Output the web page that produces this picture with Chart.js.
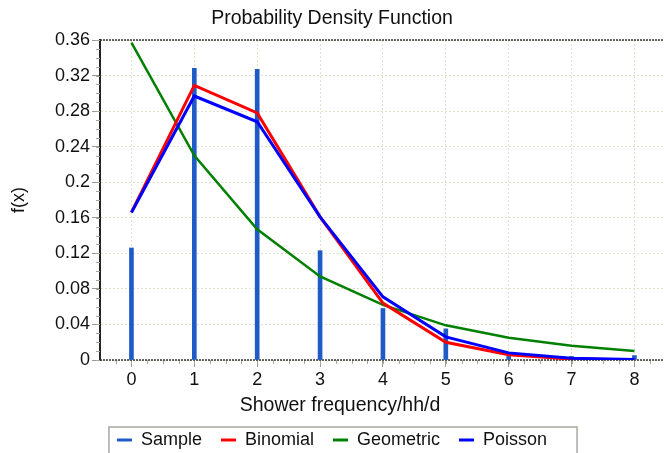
<!DOCTYPE html>
<html>
<head>
<meta charset="utf-8">
<script src="https://cdn.jsdelivr.net/npm/chart.js@4.4.1/dist/chart.umd.min.js"></script>
<style>
  html, body { margin: 0; padding: 0; background: #fff; }
</style>
</head>
<body>
<canvas id="pdf" width="664" height="453"></canvas>
<script>
// values
const xValues   = [0, 1, 2, 3, 4, 5, 6, 7, 8];
const sample    = [0.126, 0.328, 0.327, 0.123, 0.058, 0.035, 0.004, 0.004, 0.005];
const binomial  = [0.166, 0.309, 0.278, 0.161, 0.064, 0.020, 0.006, 0.001, 0.0002];
const geometric = [0.357, 0.230, 0.147, 0.094, 0.062, 0.039, 0.025, 0.016, 0.010];
const poisson   = [0.166, 0.297, 0.268, 0.161, 0.071, 0.026, 0.008, 0.002, 0.0005];

const xTicks = [0, 1, 2, 3, 4, 5, 6, 7, 8];
const yTicks = [0, 0.04, 0.08, 0.12, 0.16, 0.2, 0.24, 0.28, 0.32, 0.36];

const titleText = 'Probability Density Function';
const xTitle = 'Shower frequency/hh/d';
const yTitle = 'f(x)';

Chart.defaults.font.family = "'Liberation Sans', Arial, sans-serif";
Chart.defaults.color = '#111';

function pts(vals) {
    return xValues.map((x, i) => ({x: x, y: vals[i]}));
}

// axis frame, minor ticks, x title and legend box
const frame = {
    id: 'frame',
    beforeDatasetsDraw(chart) {
        const {ctx, chartArea: a, scales: {x, y}} = chart;
        ctx.save();
        ctx.strokeStyle = '#a8a898';
        ctx.lineWidth = 1;
        ctx.beginPath();
        for (let v = 0; v <= 0.3601; v += 0.01) {
            const py = Math.round(y.getPixelForValue(v)) + 0.5;
            ctx.moveTo(a.left - 4, py);
            ctx.lineTo(a.left, py);
        }
        for (let v = -0.25; v <= x.max; v += 0.25) {
            const px = Math.round(x.getPixelForValue(v)) + 0.5;
            ctx.moveTo(px, a.bottom);
            ctx.lineTo(px, a.bottom + 4);
        }
        ctx.stroke();

        ctx.strokeStyle = '#333';
        ctx.lineWidth = 1.5;
        ctx.setLineDash([2, 1]);
        ctx.beginPath();
        ctx.moveTo(a.left, a.top);
        ctx.lineTo(a.right, a.top);
        ctx.moveTo(a.left, a.bottom);
        ctx.lineTo(a.right, a.bottom);
        ctx.stroke();
        ctx.restore();
    },
    afterDraw(chart) {
        const {ctx} = chart;
        ctx.save();
        ctx.font = "19.5px 'Liberation Sans', Arial, sans-serif";
        ctx.fillStyle = '#111';
        ctx.textAlign = 'center';
        ctx.textBaseline = 'middle';
        ctx.fillText(xTitle, 340, 406);

        const boxes = chart.legend.legendHitBoxes;
        if (boxes && boxes.length) {
            const first = boxes[0], last = boxes[boxes.length - 1];
            ctx.strokeStyle = '#a8a8a0';
            ctx.lineWidth = 1.5;
            ctx.strokeRect(first.left - 8, first.top - 4, last.left + last.width + 30 - (first.left - 8), 40);
        }
        ctx.restore();
    }
};

new Chart(document.getElementById('pdf'), {
    type: 'line',
    data: {
        datasets: [
            {
                type: 'bar',
                label: 'Sample',
                data: pts(sample),
                backgroundColor: '#1f5bc6',
                borderColor: '#1f5bc6',
                borderWidth: 0,
                barThickness: 4,
                grouped: false,
                order: 4
            },
            {
                label: 'Binomial',
                data: pts(binomial),
                borderColor: '#ff0000',
                backgroundColor: '#ff0000',
                borderWidth: 3,
                pointRadius: 0,
                tension: 0,
                order: 2
            },
            {
                label: 'Geometric',
                data: pts(geometric),
                borderColor: '#008000',
                backgroundColor: '#008000',
                borderWidth: 2.5,
                pointRadius: 0,
                tension: 0,
                order: 3
            },
            {
                label: 'Poisson',
                data: pts(poisson),
                borderColor: '#0000ff',
                backgroundColor: '#0000ff',
                borderWidth: 3,
                pointRadius: 0,
                tension: 0,
                order: 1
            }
        ]
    },
    options: {
        responsive: false,
        animation: false,
        layout: { padding: { left: 0, right: 0, top: 0, bottom: -6 } },
        scales: {
            x: {
                type: 'linear',
                min: -0.5,
                max: 8.47,
                offset: false,
                afterBuildTicks: s => { s.ticks = xTicks.map(v => ({value: v})); },
                afterFit: s => { s.height = 52; },
                grid: {
                    offset: false,
                    color: '#e2e2cc',
                    tickColor: '#9a9a90',
                    tickLength: 7,
                    tickBorderDash: []
                },
                border: { display: false, dash: [2, 2] },
                ticks: { font: { size: 18 }, padding: 2, maxRotation: 0 }
            },
            y: {
                min: 0,
                max: 0.36,
                afterBuildTicks: s => { s.ticks = yTicks.map(v => ({value: v})); },
                afterFit: s => { s.width = 100; },
                grid: {
                    color: '#e2e2cc',
                    tickColor: '#9a9a90',
                    tickLength: 8,
                    tickBorderDash: []
                },
                border: { display: true, color: '#222', width: 2, dash: [2, 2] },
                ticks: {
                    font: { size: 18 },
                    padding: 2,
                    callback: v => String(parseFloat(v.toFixed(2)))
                },
                title: {
                    display: true,
                    text: yTitle,
                    font: { size: 18 },
                    padding: { top: 8, bottom: 0 }
                }
            }
        },
        plugins: {
            title: {
                display: true,
                text: titleText,
                font: { size: 19.5, weight: 'normal' },
                color: '#111',
                padding: { top: 7, bottom: 9.6 }
            },
            legend: {
                position: 'bottom',
                labels: {
                    usePointStyle: true,
                    pointStyle: 'line',
                    pointStyleWidth: 15,
                    padding: 19,
                    font: { size: 18 },
                    sort: (a, b) => a.datasetIndex - b.datasetIndex,
                    generateLabels: chart => Chart.defaults.plugins.legend.labels.generateLabels(chart)
                        .map(l => Object.assign(l, { lineWidth: 3 }))
                }
            },
            tooltip: { enabled: false }
        }
    },
    plugins: [frame]
});
</script>
</body>
</html>
